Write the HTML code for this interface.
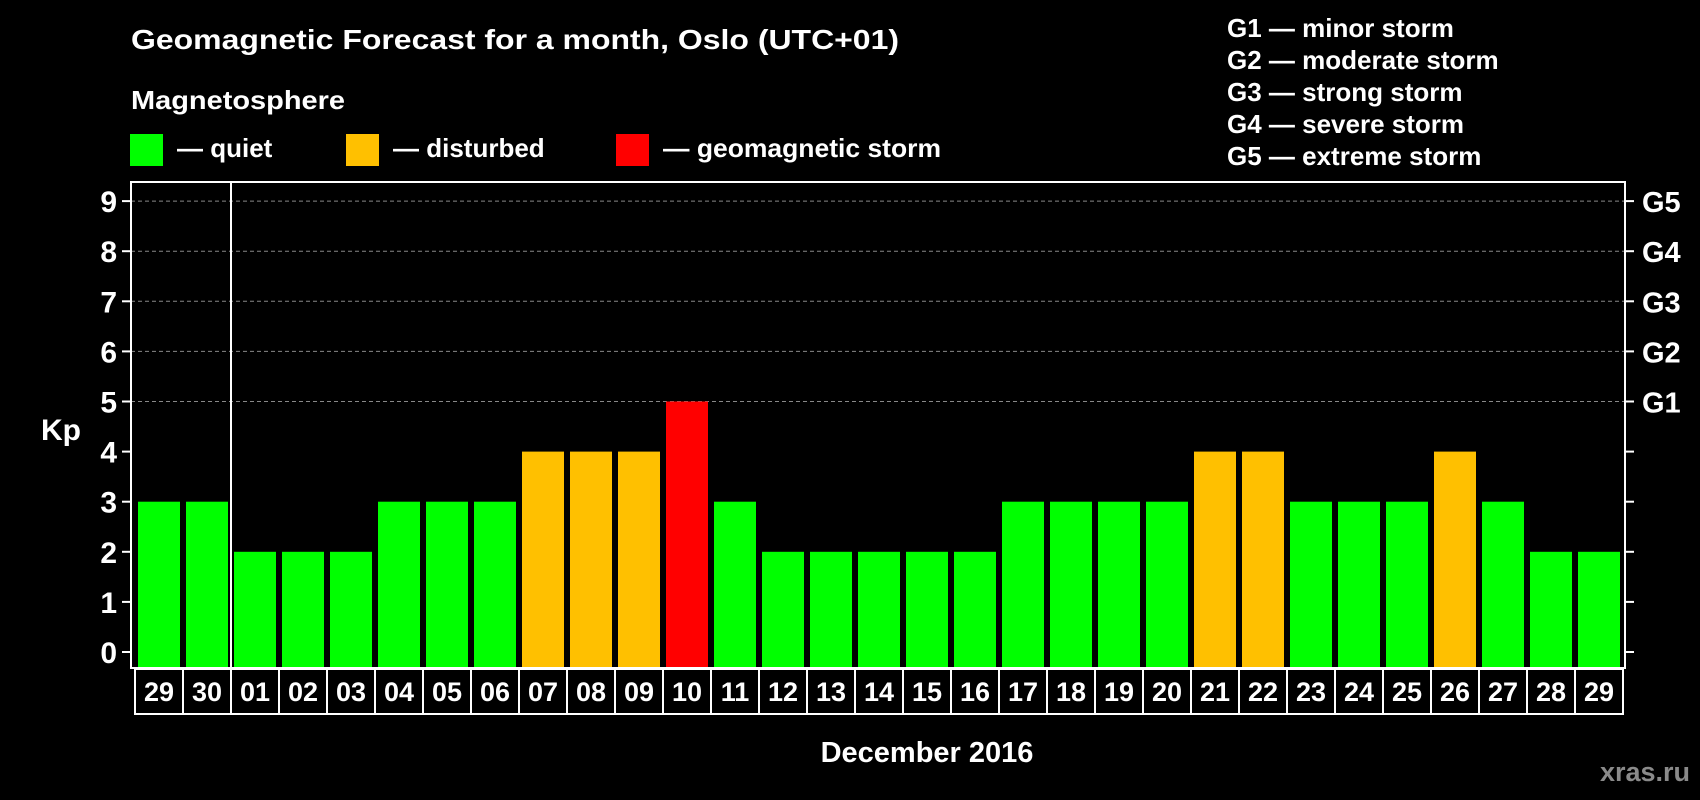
<!DOCTYPE html>
<html><head><meta charset="utf-8"><style>
html,body{margin:0;padding:0;background:#000;}
svg{display:block;font-family:"Liberation Sans",Arial,sans-serif;font-weight:bold;}
</style></head><body>
<svg id="chart" width="1700" height="800" viewBox="0 0 1700 800" xmlns="http://www.w3.org/2000/svg">
<rect width="1700" height="800" fill="#000"/>
<text x="131" y="49" fill="#fff" font-size="28" textLength="768" lengthAdjust="spacingAndGlyphs">Geomagnetic Forecast for a month, Oslo (UTC+01)</text>
<text x="131" y="109" fill="#fff" font-size="26" textLength="214" lengthAdjust="spacingAndGlyphs">Magnetosphere</text>
<g>
<rect x="130" y="134" width="33" height="32" fill="#00ff00"/>
<text x="177" y="157" fill="#fff" font-size="26">— quiet</text>
<rect x="346" y="134" width="33" height="32" fill="#ffc000"/>
<text x="393" y="157" fill="#fff" font-size="26">— disturbed</text>
<rect x="616" y="134" width="33" height="32" fill="#ff0000"/>
<text x="663" y="157" fill="#fff" font-size="26" textLength="278" lengthAdjust="spacingAndGlyphs">— geomagnetic storm</text>
</g>
<g fill="#fff" font-size="26">
<text x="1227" y="37">G1 — minor storm</text>
<text x="1227" y="69">G2 — moderate storm</text>
<text x="1227" y="101">G3 — strong storm</text>
<text x="1227" y="133">G4 — severe storm</text>
<text x="1227" y="165">G5 — extreme storm</text>
</g>
<text x="41" y="440" fill="#fff" font-size="30">Kp</text>
<text x="927" y="762" fill="#fff" font-size="29" text-anchor="middle">December 2016</text>
<text x="1690" y="781" fill="#8a8a8a" font-size="27" text-anchor="end">xras.ru</text>
<g id="plot"></g>
</svg>
<script>
const days = ["29","30","01","02","03","04","05","06","07","08","09","10","11","12","13","14","15","16","17","18","19","20","21","22","23","24","25","26","27","28","29"];
const kpValues = [3,3,2,2,2,3,3,3,4,4,4,5,3,2,2,2,2,2,3,3,3,3,4,4,3,3,3,4,3,2,2];
const yTicks = [0,1,2,3,4,5,6,7,8,9];
const gLabels = ["","","","","","G1","G2","G3","G4","G5"];

const NS = "http://www.w3.org/2000/svg";
const plot = document.getElementById('plot');
const L = 131, R = 1625, T = 182, B = 668;
const y0 = 652, unit = 50.1;
const x0 = 135, pitch = 48;
function yScale(v){ return y0 - v * unit; }
function xScale(i){ return x0 + i * pitch; }
function mk(tag, attrs){ const e = document.createElementNS(NS, tag); for (const k in attrs) e.setAttribute(k, attrs[k]); plot.appendChild(e); return e; }

yTicks.forEach(v => {
  if (v >= 5) {
    const g = mk('line', {x1:L, x2:R, y1:yScale(v), y2:yScale(v), stroke:'#888', 'stroke-width':1, 'stroke-dasharray':'4,3'});
    
    
  }
});
kpValues.forEach((v, i) => {
  const color = v >= 5 ? '#ff0000' : (v >= 4 ? '#ffc000' : '#00ff00');
  const b = mk('rect', {x:xScale(i)+3, y:yScale(v), width:42, height:B - yScale(v), fill:color});
  
  
});
const fr = mk('rect', {x:L, y:T, width:R-L, height:B-T, fill:'none', stroke:'#fff', 'stroke-width':2});


const sep = mk('line', {x1:xScale(2), x2:xScale(2), y1:T, y2:B, stroke:'#fff', 'stroke-width':2});


yTicks.forEach(v => {
  const y = yScale(v);
  const t1 = mk('line', {x1:122, x2:L, y1:y, y2:y, stroke:'#fff', 'stroke-width':2});
  
  
  const t2 = mk('line', {x1:R, x2:1634, y1:y, y2:y, stroke:'#fff', 'stroke-width':2});
  
  
  const lb = mk('text', {x:117, y:y+11, fill:'#fff', 'font-size':30, 'text-anchor':'end'});
  lb.textContent = v;
  
  
  if (gLabels[v]) {
    const gl = mk('text', {x:1642, y:y+11, fill:'#fff', 'font-size':29});
    gl.textContent = gLabels[v];
    
    
  }
});
days.forEach((d, i) => {
  const bx = mk('rect', {x:xScale(i), y:669, width:pitch, height:45, fill:'#000', stroke:'#fff', 'stroke-width':2});
  
  
  const tx = mk('text', {x:xScale(i)+pitch/2, y:701, fill:'#fff', 'font-size':27, 'text-anchor':'middle'});
  tx.textContent = d;
  
  
});
</script>
</body></html>
